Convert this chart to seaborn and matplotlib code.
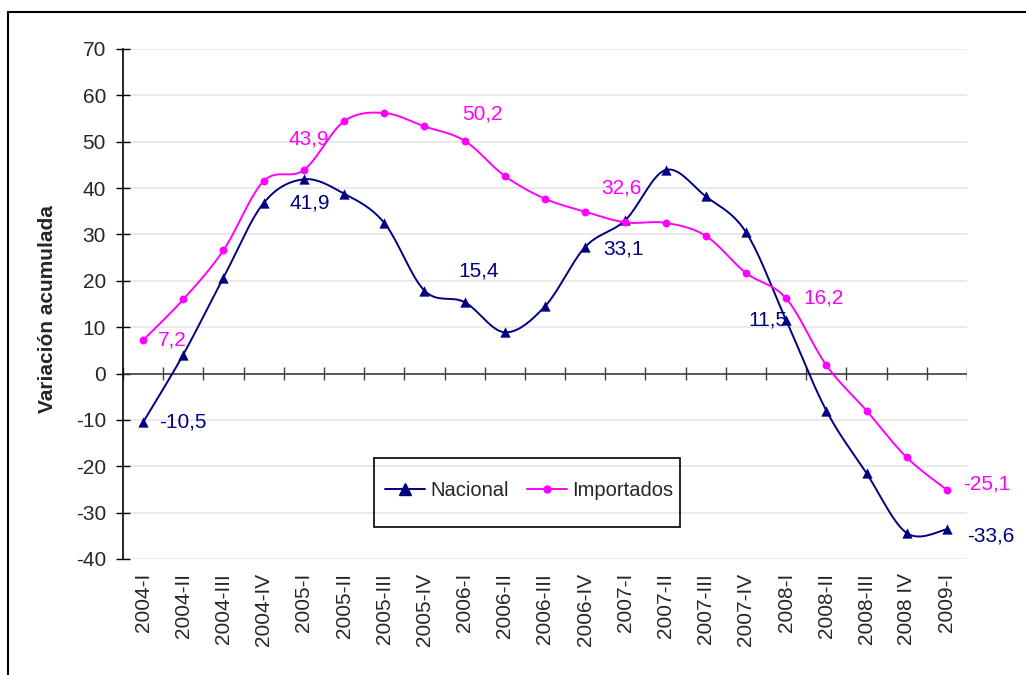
import numpy as np
import pandas as pd
import matplotlib
matplotlib.use("Agg")
import matplotlib.pyplot as plt
import seaborn as sns
from matplotlib.lines import Line2D
from matplotlib.patches import Rectangle

quarters = ["2004-I", "2004-II", "2004-III", "2004-IV",
            "2005-I", "2005-II", "2005-III", "2005-IV",
            "2006-I", "2006-II", "2006-III", "2006-IV",
            "2007-I", "2007-II", "2007-III", "2007-IV",
            "2008-I", "2008-II", "2008-III", "2008 IV", "2009-I"]
nacional = [-10.5, 4.1, 20.7, 36.8, 41.9, 38.8, 32.5, 17.9, 15.4, 8.9, 14.5,
            27.3, 33.1, 43.9, 38.2, 30.5, 11.5, -8.0, -21.5, -34.4, -33.6]
importados = [7.2, 16.0, 26.6, 41.5, 43.9, 54.4, 56.2, 53.3, 50.2, 42.6, 37.7,
              34.9, 32.6, 32.5, 29.7, 21.7, 16.2, 1.8, -8.0, -18.1, -25.1]

# labelled points: (index, offset px right, offset px up, ha)
labels_nac = [(0, 16, 0, "left"), (4, 6, -24, "center"), (8, 14, 31, "center"),
              (12, -2, -29, "center"), (16, 1, 0, "right"), (20, 20, -7, "left")]
labels_imp = [(0, 15, 0, "left"), (4, 5, 31, "center"), (8, 18, 27, "center"),
              (12, -4, 34, "center"), (16, 17, 0, "left"), (20, 16, 6, "left")]

NAVY = "#000080"
MAGENTA = "#FF00FF"
FONT = ["Liberation Sans", "DejaVu Sans"]
FS = 15

sns.set_style("white")
plt.rcParams["font.family"] = FONT
plt.rcParams["axes.unicode_minus"] = False

fig = plt.figure(figsize=(10.26, 6.75), dpi=100)
ax = fig.add_axes([123 / 1026, 1 - 559 / 675, 844 / 1026, 510 / 675])

ax.set_xlim(-0.5, len(quarters) - 0.5)
ax.set_ylim(-40, 70)


def smooth(ax, xs, ys, n=20):
    """Excel-like smoothed line (Catmull-Rom bezier in screen space)."""
    pts = ax.transData.transform(np.column_stack([xs, ys]))
    p = np.vstack([pts[0], pts, pts[-1]])
    t = np.linspace(0, 1, n)[:, None]
    out = []
    for i in range(1, len(p) - 2):
        p0, p3 = p[i], p[i + 1]
        c1 = p0 + (p[i + 1] - p[i - 1]) / 6
        c2 = p3 - (p[i + 2] - p[i]) / 6
        seg = ((1 - t) ** 3) * p0 + 3 * ((1 - t) ** 2) * t * c1 \
            + 3 * (1 - t) * t ** 2 * c2 + t ** 3 * p3
        out.append(seg if i == 1 else seg[1:])
    return ax.transData.inverted().transform(np.vstack(out))


df = pd.DataFrame({"x": np.arange(len(quarters)), "Nacional": nacional,
                   "Importados": importados})

ax.yaxis.grid(True, color="#e6e6e6", linewidth=1.2)
ax.set_axisbelow(True)

for col, color, marker, ms in [("Nacional", NAVY, "^", 55), ("Importados", MAGENTA, "o", 32)]:
    curve = smooth(ax, df["x"].values, df[col].values)
    ax.plot(curve[:, 0], curve[:, 1], color=color, linewidth=1.4, zorder=3)
    sns.scatterplot(data=df, x="x", y=col, marker=marker, s=ms, color=color,
                    edgecolor=color, linewidth=0, ax=ax, zorder=4, legend=False)

for vals, labs, color in [(nacional, labels_nac, NAVY), (importados, labels_imp, MAGENTA)]:
    for i, dx, dy, ha in labs:
        ax.annotate(f"{vals[i]:.1f}".replace(".", ","), (i, vals[i]),
                    xytext=(dx, dy), textcoords="offset pixels", ha=ha, va="center",
                    color=color, fontsize=FS)

# axis styling
for s in ["top", "right", "bottom"]:
    ax.spines[s].set_visible(False)
ax.spines["left"].set_color("black")
ax.spines["left"].set_linewidth(1.2)
ax.set_yticks(np.arange(-40, 71, 10))
ax.tick_params(axis="y", direction="inout", length=9.5, width=1.0, pad=7.5,
               labelsize=FS, color="black", left=True)
ax.set_xticks(np.arange(len(quarters)))
ax.set_xticklabels(quarters, rotation=90, fontsize=FS)
ax.tick_params(axis="x", length=0, pad=10)
ax.set_xlabel("")
ax.set_ylabel("Variación acumulada", fontsize=15, fontweight="bold")
ax.yaxis.set_label_coords(-0.078, 0.49)

# category axis crossing at zero, with tick marks between categories
zero = 40 / 110
half = 6.5 / 510
ax.axhline(0, color="#404040", linewidth=1.2, zorder=2)
ax.vlines(np.arange(-0.5, len(quarters), 1), zero - half, zero + half,
          transform=ax.get_xaxis_transform(), color="#404040", linewidth=1.0, zorder=2)

handles = [Line2D([], [], color=NAVY, marker="^", markersize=8, linewidth=1.4),
           Line2D([], [], color=MAGENTA, marker="o", markersize=5, linewidth=1.4)]
leg = fig.legend(handles, ["Nacional", "Importados"], ncol=2, loc="center",
                 bbox_to_anchor=(529 / 1026, 1 - 491 / 675), fontsize=14.5,
                 frameon=False, handlelength=2.0, handletextpad=0.25,
                 columnspacing=0.9, borderpad=0)
fig.add_artist(Rectangle((374 / 1026, 1 - 527 / 675), 306 / 1026, 69 / 675,
                         transform=fig.transFigure, fill=False,
                         edgecolor="black", linewidth=1.2))

# outer chart frame (left and top edges visible)
fig.add_artist(Line2D([8 / 1026, 8 / 1026], [0, 1 - 12 / 675], color="black",
                      linewidth=1.5, transform=fig.transFigure))
fig.add_artist(Line2D([8 / 1026, 1], [1 - 12 / 675, 1 - 12 / 675], color="black",
                      linewidth=1.5, transform=fig.transFigure))

fig.savefig("out.png", dpi=100)
